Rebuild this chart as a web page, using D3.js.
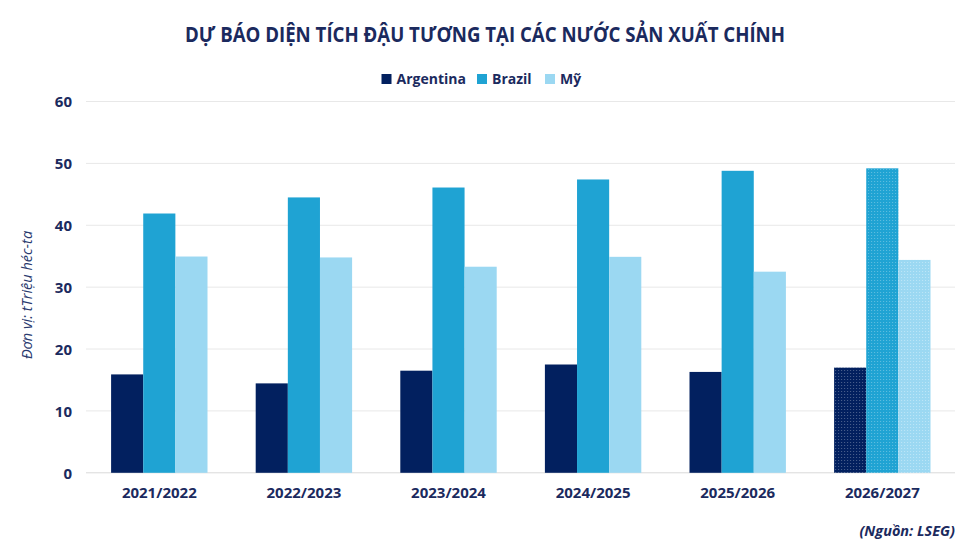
<!DOCTYPE html>
<html><head><meta charset="utf-8">
<script src="https://cdn.jsdelivr.net/npm/d3@7"></script>
<style>
html,body{margin:0;padding:0;background:#fff;}
svg{display:block;font-family:"Open Sans",Lato,sans-serif;}
</style></head>
<body><svg id="c" width="962" height="554"></svg>
<script>
const categories = ["2021/2022","2022/2023","2023/2024","2024/2025","2025/2026","2026/2027"];
const seriesNames = ["Argentina","Brazil","Mỹ"];
const argentina = [15.9, 14.45, 16.5, 17.5, 16.3, 17.0];
const brazil    = [41.9, 44.5, 46.1, 47.4, 48.8, 49.2];
const usa       = [34.95, 34.8, 33.3, 34.9, 32.5, 34.4];
const yTicks = [0,10,20,30,40,50,60];
const forecastCategory = "2026/2027";
const title = "DỰ BÁO DIỆN TÍCH ĐẬU TƯƠNG TẠI CÁC NƯỚC SẢN XUẤT CHÍNH";
const yTitle = "Đơn vị: tTriệu héc-ta";
const source = "(Nguồn: LSEG)";

const colors = ["#02205f","#1fa3d3","#9bd8f2"];
const textColor = "#1b2a5e";
const seriesValues = [argentina, brazil, usa];

const svg = d3.select("#c");
const plot = {left:86, right:955, top:101.5, bottom:472.8};

const x = d3.scaleBand().domain(categories).range([87,954.6]).paddingInner(1/3).paddingOuter(1/6);
const xs = d3.scaleBand().domain(seriesNames).range([0, x.bandwidth()]);
const y = d3.scaleLinear().domain([0,60]).range([plot.bottom, plot.top]);

// patterns for forecast
const defs = svg.append("defs");
colors.forEach((c,i)=>{
  const p = defs.append("pattern").attr("id","pat"+i).attr("patternUnits","userSpaceOnUse")
    .attr("width",3).attr("height",3);
  p.append("rect").attr("width",3).attr("height",3).attr("fill",c);
  p.append("rect").attr("x",1).attr("y",1).attr("width",1).attr("height",1)
    .attr("fill","#ffffff").attr("opacity", i===2?0.35:0.3);
});

// gridlines
svg.append("g").selectAll("line").data(yTicks).join("line")
  .attr("x1",plot.left).attr("x2",plot.right)
  .attr("y1",d=>y(d)).attr("y2",d=>y(d))
  .attr("stroke",d=>d===0?"#d9d9d9":"#e8e8e8").attr("stroke-width",1);

// y axis labels via axis
const yAxis = svg.append("g").attr("transform","translate(72,0)")
  .call(d3.axisLeft(y).tickValues(yTicks).tickSize(0).tickPadding(0));
yAxis.select(".domain").remove();
yAxis.selectAll("text").attr("font-size",15).attr("font-weight",700)
  .attr("fill",textColor).attr("font-family","'Open Sans',sans-serif").attr("dy","0.36em");

// bars
const groups = svg.append("g").selectAll("g").data(categories).join("g")
  .attr("transform",d=>`translate(${x(d)},0)`);
groups.selectAll("rect").data((c,ci)=>seriesNames.map((s,si)=>({c,s,si,v:seriesValues[si][ci]})))
  .join("rect")
  .attr("x",d=>xs(d.s)).attr("width",xs.bandwidth())
  .attr("y",d=>y(d.v)).attr("height",d=>y(0)-y(d.v))
  .attr("fill",d=>d.c===forecastCategory?`url(#pat${d.si})`:colors[d.si]);

// x labels
const xAxis = svg.append("g").attr("transform",`translate(0,${plot.bottom})`)
  .call(d3.axisBottom(x).tickSize(0).tickPadding(15));
xAxis.select(".domain").remove();
xAxis.selectAll("text").attr("font-size",15).attr("font-weight",700)
  .attr("fill",textColor).attr("font-family","'Open Sans',sans-serif");

// title
svg.append("text").attr("x",485).attr("y",42).attr("text-anchor","middle")
  .attr("font-size",20.5).attr("font-weight",700).attr("fill",textColor)
  .attr("textLength",600).attr("lengthAdjust","spacingAndGlyphs")
  .text(title);

// legend
const legendX = [381.5, 477, 545];
const lg = svg.append("g").selectAll("g").data(seriesNames).join("g")
  .attr("transform",(d,i)=>`translate(${legendX[i]},79)`);
lg.append("rect").attr("x",0).attr("y",-5).attr("width",10).attr("height",10)
  .attr("fill",(d,i)=>colors[i]);
lg.append("text").attr("x",15).attr("y",0).attr("dy","0.35em")
  .attr("font-size",14).attr("font-weight",700).attr("fill",textColor).text(d=>d);

// y title
svg.append("text").attr("transform","translate(32,295) rotate(-90)")
  .attr("text-anchor","middle").attr("font-size",14.5).attr("font-style","italic")
  .attr("fill","#2a3a6e").text(yTitle);

// source
svg.append("text").attr("x",955).attr("y",536).attr("text-anchor","end")
  .attr("font-size",14.5).attr("font-weight",700).attr("font-style","italic")
  .attr("fill",textColor).text(source);
</script></body></html>
